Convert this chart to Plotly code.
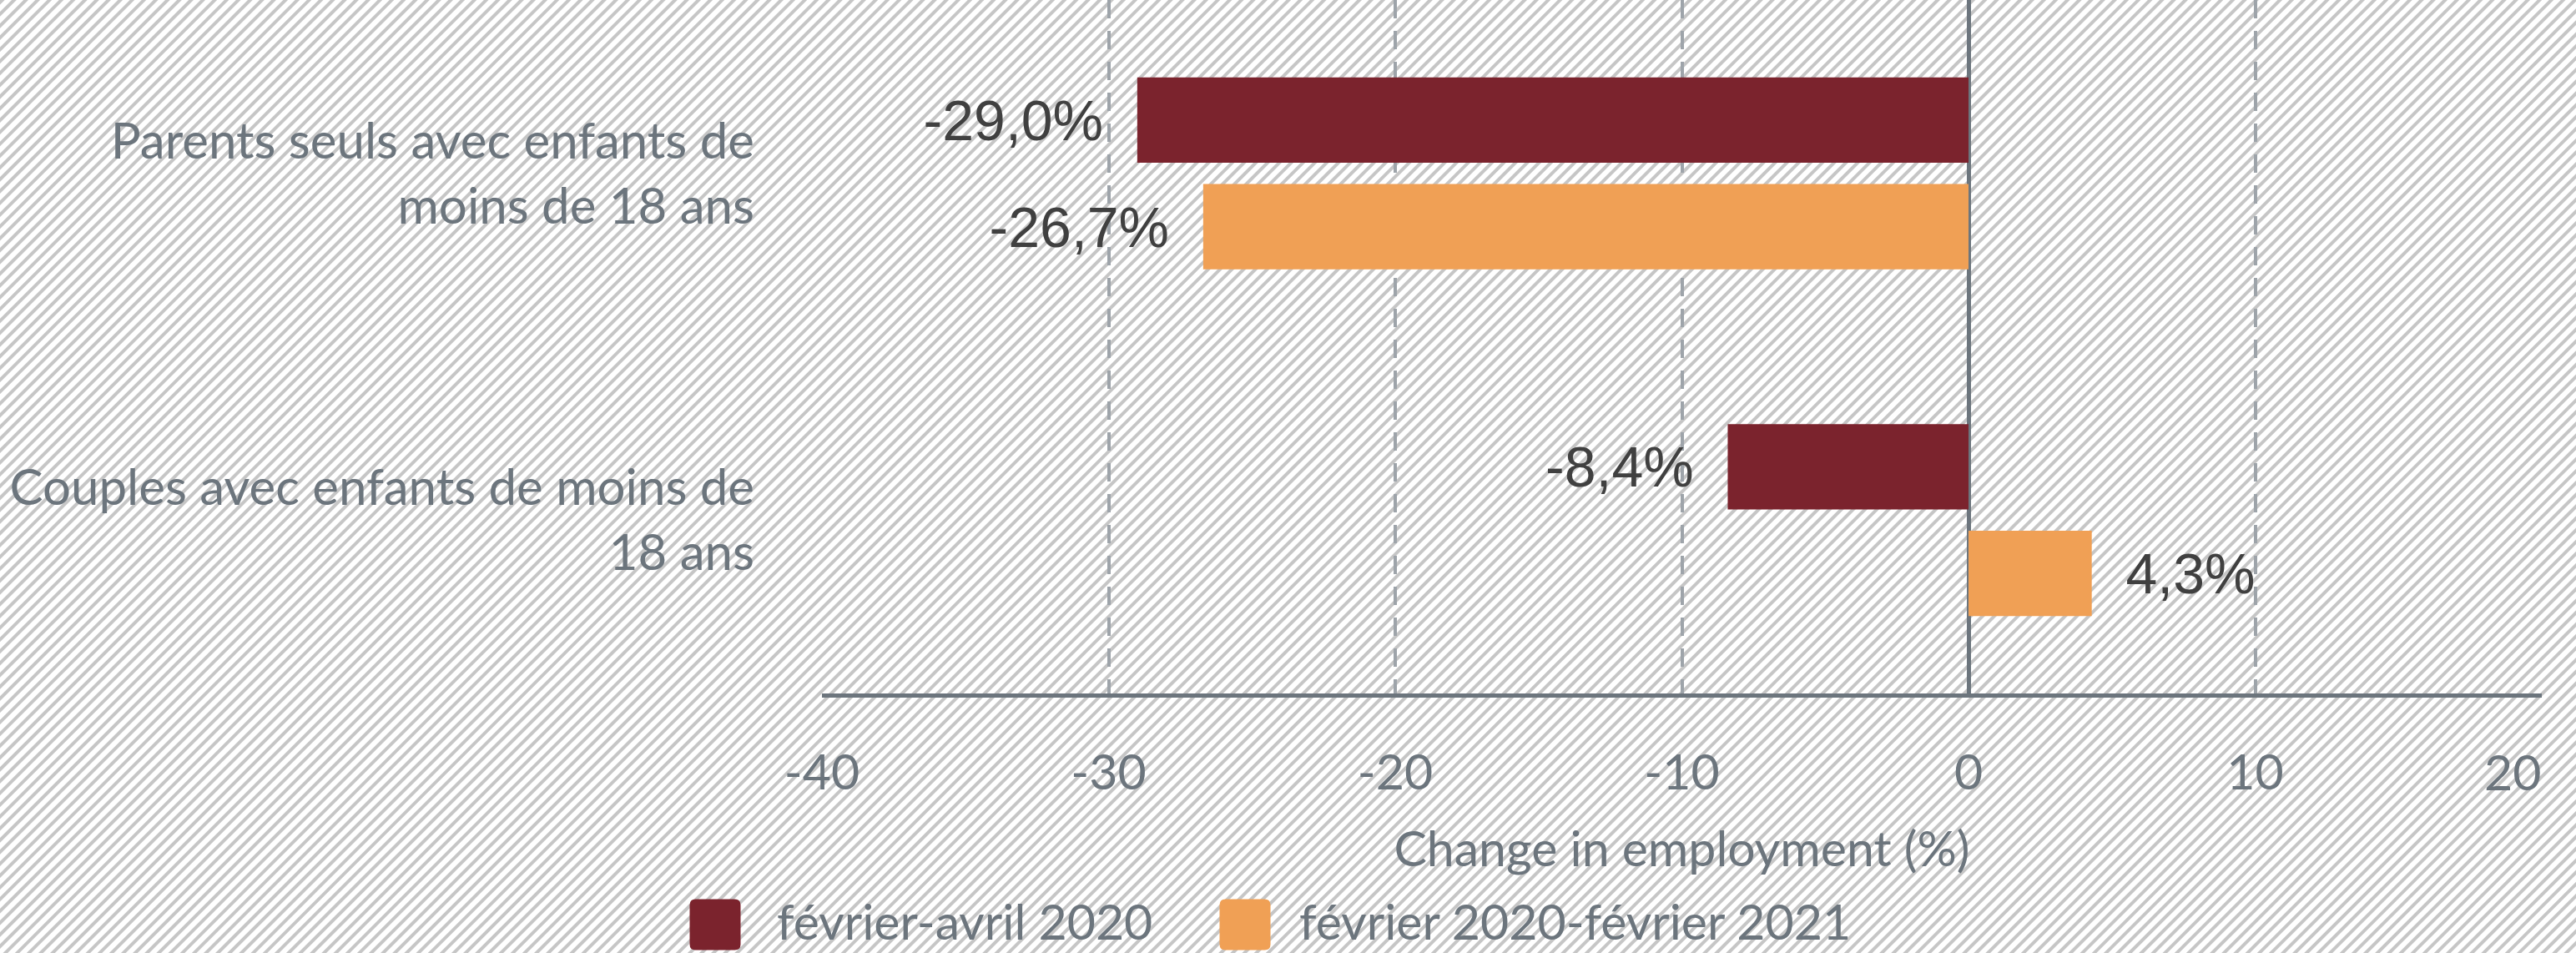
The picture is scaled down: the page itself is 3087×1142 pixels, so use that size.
import base64
import plotly.graph_objects as go

# ---------------- data ----------------
categories = [
    "Parents seuls avec enfants de<br>moins de 18 ans",
    "Couples avec enfants de moins de<br>18 ans",
]
series_names = ["février-avril 2020", "février 2020-février 2021"]
values_feb_apr_2020 = [-29.0, -8.4]
values_feb2020_feb2021 = [-26.7, 4.3]
x_tick_values = [-40, -30, -20, -10, 0, 10, 20]
x_tick_labels = ["-40", "-30", "-20", "-10", "0", "10", "20"]
x_title = "Change in employment (%)"

# ---------------- style ----------------
W, H = 3087, 1142
L, R, T, B = 985, 41, 0, 311
PW, PH = W - L - R, H - T - B
colors = ["#7b232d", "#f0a055"]
TEXT_GREY = "#6c757d"
LABEL_DARK = "#404040"
FONT = "Lato, 'Noto Sans', sans-serif"
NUM_FONT = "'Liberation Sans', Arial, sans-serif"
NBSP = "\u00a0"
TICK_FONT = dict(family=FONT, size=59, color=TEXT_GREY)
TICK_LABEL_Y_PX = 925


def fmt(v):
    s = f"{v:.1f}".replace(".", ",") + "%"
    return s + NBSP * 2 if v < 0 else NBSP * 2 + s


def paper_x(px):
    return (px - L) / PW


def paper_y(py):
    return (T + PH - py) / PH


# the last tick label is drawn right-aligned to its gridline so it stays in the figure
tick_text = list(x_tick_labels[:-1]) + [""]

# hatched background as an SVG image
svg = (
    f'<svg xmlns="http://www.w3.org/2000/svg" width="{W}" height="{H}" viewBox="0 0 {W} {H}">'
    '<defs><pattern id="h" width="10" height="10" patternUnits="userSpaceOnUse" '
    'patternTransform="rotate(45)"><rect x="0" y="0" width="4" height="10" fill="#c6c6c6"/></pattern></defs>'
    f'<rect width="{W}" height="{H}" fill="#ffffff"/>'
    f'<rect width="{W}" height="{H}" fill="url(#h)"/></svg>'
)
bg_uri = "data:image/svg+xml;base64," + base64.b64encode(svg.encode()).decode()

fig = go.Figure()
for name, vals, col in zip(series_names, [values_feb_apr_2020, values_feb2020_feb2021], colors):
    fig.add_trace(
        go.Bar(
            y=categories,
            x=vals,
            orientation="h",
            name=name,
            marker=dict(color=col, line=dict(width=0)),
            text=[fmt(v) for v in vals],
            textposition="outside",
            textfont=dict(family=NUM_FONT, size=68, color=LABEL_DARK),
            constraintext="none",
            cliponaxis=False,
            showlegend=False,
            hoverinfo="skip",
        )
    )

# manual legend (large rounded swatches)
legend_centers_px = [857, 1492]
legend_text_px = [930, 1556]
legend_swatch_y_px = 1108
legend_text_y_px = 1103
half, rad = 30.5, 7
swatch_path = (
    f"M {-half + rad},{-half} L {half - rad},{-half} Q {half},{-half} {half},{-half + rad} "
    f"L {half},{half - rad} Q {half},{half} {half - rad},{half} L {-half + rad},{half} "
    f"Q {-half},{half} {-half},{half - rad} L {-half},{-half + rad} Q {-half},{-half} {-half + rad},{-half} Z"
)
shapes = []
annotations = []
for name, col, cx, tx in zip(series_names, colors, legend_centers_px, legend_text_px):
    shapes.append(
        dict(
            type="path",
            xref="paper",
            yref="paper",
            xsizemode="pixel",
            ysizemode="pixel",
            xanchor=paper_x(cx),
            yanchor=paper_y(legend_swatch_y_px),
            path=swatch_path,
            fillcolor=col,
            line=dict(width=0),
        )
    )
    annotations.append(
        dict(
            text=name,
            xref="paper",
            yref="paper",
            x=paper_x(tx),
            y=paper_y(legend_text_y_px),
            xanchor="left",
            yanchor="middle",
            showarrow=False,
            borderpad=0,
            font=dict(family=FONT, size=59, color=TEXT_GREY),
        )
    )

# last x tick label, right-aligned on its gridline
annotations.append(
    dict(
        text=x_tick_labels[-1],
        xref="x",
        yref="paper",
        x=x_tick_values[-1],
        y=paper_y(TICK_LABEL_Y_PX),
        xanchor="right",
        yanchor="middle",
        showarrow=False,
        borderpad=0,
        font=TICK_FONT,
    )
)

fig.update_layout(
    width=W,
    height=H,
    autosize=False,
    margin=dict(l=L, r=R, t=T, b=B, pad=0),
    paper_bgcolor="#ffffff",
    plot_bgcolor="rgba(0,0,0,0)",
    barmode="group",
    bargap=0.385,
    bargroupgap=0.2,
    showlegend=False,
    font=dict(family=FONT, color=TEXT_GREY),
    shapes=shapes,
    annotations=annotations,
    images=[
        dict(
            source=bg_uri,
            xref="paper",
            yref="paper",
            x=-L / PW,
            y=(T + PH) / PH,
            sizex=W / PW,
            sizey=H / PH,
            xanchor="left",
            yanchor="top",
            sizing="stretch",
            layer="below",
        )
    ],
    xaxis=dict(
        range=[-40, 20],
        tickmode="array",
        tickvals=x_tick_values,
        ticktext=tick_text,
        showgrid=True,
        gridcolor="#9ea4aa",
        gridwidth=4,
        griddash="22px,15px",
        zeroline=True,
        zerolinecolor=TEXT_GREY,
        zerolinewidth=5,
        showline=True,
        linecolor=TEXT_GREY,
        linewidth=5,
        ticks="",
        ticklabelstandoff=39,
        tickfont=TICK_FONT,
        title=dict(text=x_title, font=dict(family=FONT, size=59, color=TEXT_GREY), standoff=40),
        automargin=False,
        fixedrange=True,
    ),
    yaxis=dict(
        autorange="reversed",
        showgrid=False,
        zeroline=False,
        showline=False,
        ticks="",
        ticklabelstandoff=80,
        tickfont=dict(family=FONT, size=60, color=TEXT_GREY),
        automargin=False,
        fixedrange=True,
    ),
)

fig.write_html(
    "out.html",
    config={"displayModeBar": False},
    post_script="document.body.style.margin='0';document.body.style.overflow='hidden';",
)
